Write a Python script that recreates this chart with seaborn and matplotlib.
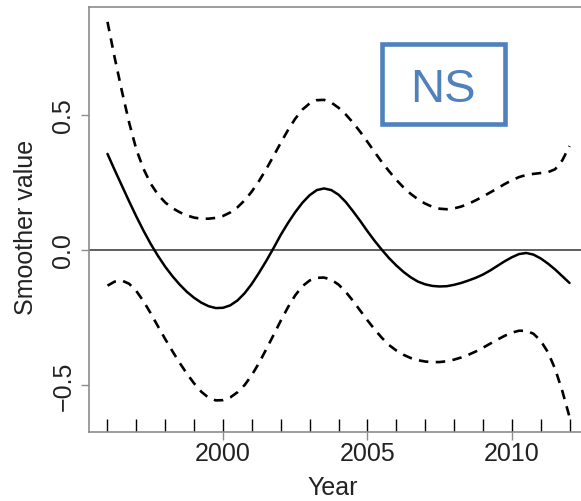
import numpy as np
import pandas as pd
import matplotlib
matplotlib.use("Agg")
import matplotlib.pyplot as plt
from matplotlib.patches import Rectangle
import seaborn as sns

# Smoother estimate for Year with approximate 95% band, sampled every quarter year
years = np.arange(1996.0, 2012.01, 0.25)
fit = [0.356, 0.296, 0.238, 0.180, 0.124, 0.071, 0.022, -0.022,
       -0.062, -0.097, -0.128, -0.155, -0.177, -0.195, -0.208, -0.215,
       -0.214, -0.205, -0.187, -0.160, -0.125, -0.084, -0.040, 0.007,
       0.056, 0.100, 0.140, 0.175, 0.203, 0.222, 0.228, 0.222,
       0.205, 0.178, 0.144, 0.108, 0.070, 0.034, 0.001, -0.030,
       -0.057, -0.081, -0.101, -0.117, -0.127, -0.133, -0.135, -0.134,
       -0.129, -0.122, -0.113, -0.103, -0.091, -0.076, -0.059, -0.042,
       -0.027, -0.015, -0.011, -0.017, -0.031, -0.050, -0.072, -0.097,
       -0.122]
upper = [0.845, 0.712, 0.588, 0.472, 0.372, 0.300, 0.245, 0.205,
         0.176, 0.155, 0.140, 0.128, 0.120, 0.116, 0.116, 0.119,
         0.126, 0.139, 0.158, 0.184, 0.217, 0.256, 0.300, 0.348,
         0.397, 0.444, 0.486, 0.520, 0.543, 0.555, 0.556, 0.546,
         0.527, 0.502, 0.472, 0.438, 0.401, 0.363, 0.326, 0.292,
         0.260, 0.232, 0.208, 0.188, 0.172, 0.160, 0.153, 0.151,
         0.154, 0.161, 0.171, 0.184, 0.198, 0.213, 0.228, 0.244,
         0.258, 0.270, 0.278, 0.282, 0.285, 0.288, 0.299, 0.332,
         0.385]
lower = [-0.132, -0.117, -0.113, -0.125, -0.152, -0.190, -0.235, -0.283,
         -0.330, -0.375, -0.418, -0.458, -0.494, -0.525, -0.547, -0.557,
         -0.556, -0.546, -0.527, -0.500, -0.463, -0.418, -0.367, -0.315,
         -0.262, -0.212, -0.168, -0.134, -0.113, -0.103, -0.102, -0.110,
         -0.128, -0.155, -0.188, -0.224, -0.260, -0.294, -0.325, -0.352,
         -0.372, -0.388, -0.400, -0.408, -0.413, -0.415, -0.415, -0.412,
         -0.406, -0.398, -0.388, -0.376, -0.362, -0.347, -0.332, -0.318,
         -0.306, -0.299, -0.299, -0.310, -0.336, -0.378, -0.440, -0.522,
         -0.618]

# Observation years shown as a rug along the bottom
rug_years = list(range(1996, 2013))

x_ticks = [2000, 2005, 2010]
y_ticks = [-0.5, 0.0, 0.5]
y_tick_labels = ["\u22120.5", "0.0", "0.5"]
x_label = "Year"
y_label = "Smoother value"
badge = "NS"

sns.set_style("white")
plt.rcParams["font.family"] = ["Liberation Sans", "DejaVu Sans"]

df = pd.DataFrame({"year": years, "fit": fit, "upper": upper, "lower": lower})

fig = plt.figure(figsize=(5.81, 5.02), dpi=100)
ax = fig.add_axes([89 / 581, 69 / 502, 499 / 581, 425 / 502])

ax.axhline(0, color="#444444", lw=1.2, zorder=1)

dash = (0, (3.6, 2.8))
sns.lineplot(data=df, x="year", y="upper", ax=ax, color="black", lw=1.9,
             linestyle=dash, estimator=None, sort=True)
sns.lineplot(data=df, x="year", y="lower", ax=ax, color="black", lw=1.9,
             linestyle=dash, estimator=None, sort=True)
sns.lineplot(data=df, x="year", y="fit", ax=ax, color="black", lw=1.8,
             estimator=None, sort=True)

sns.rugplot(x=rug_years, ax=ax, height=13 / 425, color="black", lw=1.9)

ax.set_xlim(1995.36, 2012.64)
ax.set_ylim(-0.674, 0.90)

ax.set_xticks(x_ticks)
ax.set_xticklabels([str(v) for v in x_ticks])
ax.set_yticks(y_ticks)
ax.set_yticklabels(y_tick_labels, rotation=90, va="center")

ax.tick_params(axis="both", direction="out", length=5.8, width=1.0,
               color="#8c8c8c", labelcolor="#222222", labelsize=18)
ax.tick_params(axis="x", pad=0.5, bottom=True)
ax.tick_params(axis="y", pad=4, left=True)

for side in ["left", "bottom", "top", "right"]:
    ax.spines[side].set_color("#8c8c8c")
    ax.spines[side].set_linewidth(1.2)
    ax.spines[side].set_visible(True)

ax.set_xlabel(x_label, fontsize=18, color="#222222", va="baseline")
ax.xaxis.set_label_coords(0.489, (433 - 495) / 425)
ax.set_ylabel(y_label, fontsize=18, color="#222222", va="center")
ax.yaxis.set_label_coords((26 - 89) / 499, (433 - 227.5) / 425)

blue = "#4f81bd"
ax.add_patch(Rectangle((0.5877, 0.7253), 0.2455, 0.1871, transform=ax.transAxes,
                       fill=False, edgecolor=blue, lw=3.3, joinstyle="miter",
                       clip_on=False, zorder=5))
ax.text(0.710, (433 - 102) / 425, badge, transform=ax.transAxes, color=blue,
        fontsize=34, ha="center", va="baseline", zorder=6)

fig.savefig("out.png", dpi=100)
